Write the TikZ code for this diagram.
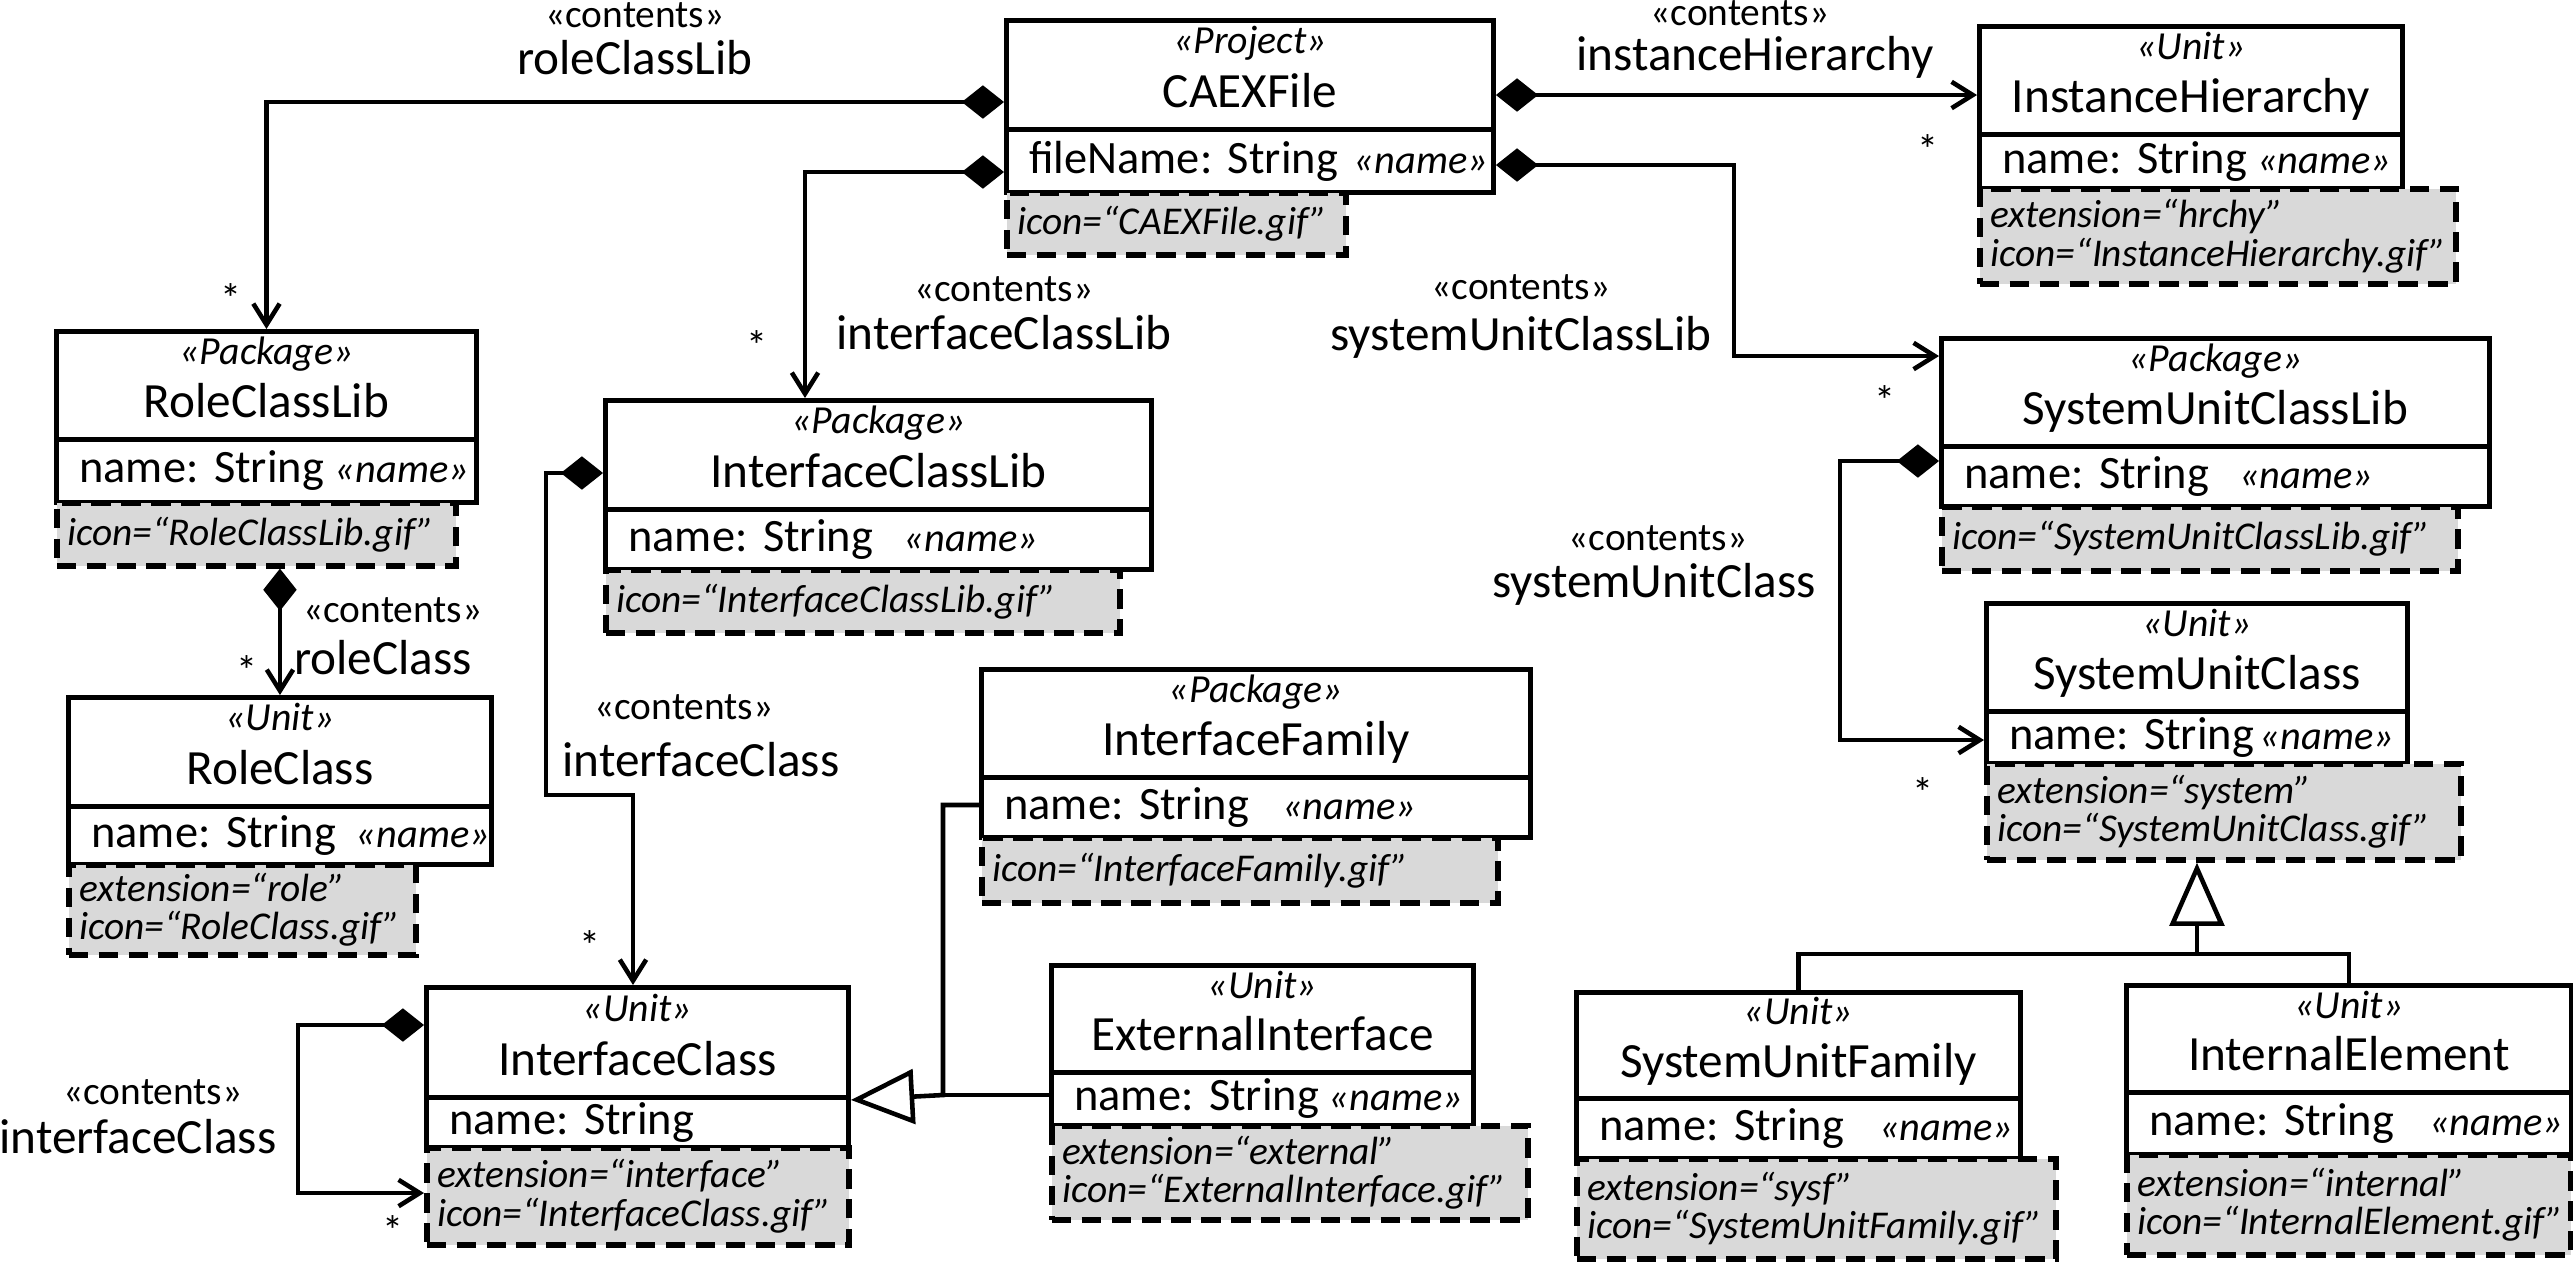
\documentclass[tikz,border=0pt]{standalone}
\usepackage{fontspec}
\setmainfont{Carlito}
\usetikzlibrary{arrows.meta,calc}
\definecolor{tagfill}{HTML}{D9D9D9}
\newcommand\stf{\fontsize{11.3}{12.5}\selectfont\itshape}
\newcommand\nmf{\fontsize{14}{14}\selectfont}
\newcommand\atf{\fontsize{13.2}{14}\selectfont}
\newcommand\tgf{\fontsize{11.2}{10.9}\selectfont\itshape}
\newcommand\lbf{\fontsize{14}{14}\selectfont}
\newcommand\ctf{\fontsize{11.2}{12}\selectfont}
\newcommand\stfnt{\fontsize{12}{12}\selectfont}
\newcommand\nattr[2][name: String]{#1\hspace{#2}{\fontsize{11.5}{14}\selectfont\itshape «name»}}
\newcommand\clshead[7]{%
 \pgfmathsetlengthmacro\bw{(#4-#2)*0.01cm}%
 \pgfmathsetlengthmacro\bh{(#5-#3)*0.01cm}%
 \node[hdrbox, minimum width=\bw, minimum height=\bh] (#1) at (#2,#3) {};
 \node[sttext] (#1s) at ($(#1.north)!0.315!(#1.south)$) {«#6»};
 \node[nmtext] (#1n) at ($(#1.north)!0.785!(#1.south)$) {#7};}
\newcommand\clsattr[6]{%
 \pgfmathsetlengthmacro\bw{(#4-#2)*0.01cm}%
 \pgfmathsetlengthmacro\bh{(#5-#3)*0.01cm}%
 \pgfmathsetlengthmacro\tw{(#4-#2)*0.01cm-13pt}%
 \node[attbox, minimum width=\bw, minimum height=\bh, text width=\tw] (#1) at (#2,#3) {\mbox{#6}};}
\newcommand\clstag[6]{%
 \pgfmathsetlengthmacro\bw{(#4-#2)*0.01cm}%
 \pgfmathsetlengthmacro\bh{(#5-#3)*0.01cm}%
 \pgfmathsetlengthmacro\tw{(#4-#2)*0.01cm-6pt}%
 \node[tagbox, minimum width=\bw, minimum height=\bh, text width=\tw] (#1) at (#2,#3) {#6};}
\tikzset{
 hdrbox/.style={draw, line width=1.4pt, fill=white, anchor=north west, inner sep=0pt},
 sttext/.style={font=\stf, anchor=base, inner sep=0pt},
 nmtext/.style={font=\nmf, anchor=base, inner sep=0pt},
 attbox/.style={draw, line width=1.4pt, fill=white, anchor=north west, inner xsep=6.5pt, inner ysep=0pt, align=left, font=\atf},
 tagbox/.style={draw, line width=1.6pt, dash pattern=on 5.5pt off 3pt, fill=tagfill, anchor=north west, inner xsep=3pt, inner ysep=0pt, align=left, font=\tgf},
 conn/.style={line width=1.3pt},
 comp/.style={conn, {Diamond[length=12pt,width=9.5pt]}-{Straight Barb[length=6pt,width=7.5pt]}},
 gen/.style={conn, -{Triangle[open,length=18pt,width=15.5pt,fill=white]}},
 lbl/.style={font=\lbf, inner sep=0pt},
 ctl/.style={font=\ctf, inner sep=0pt},
 star/.style={font=\stfnt, inner sep=0pt},
}
\begin{document}
\frenchspacing
\begin{tikzpicture}[x=0.01cm,y=-0.01cm]
\useasboundingbox (0,0) rectangle (2573,1262);
% CAEXFile
\clshead{cf}{1004}{18}{1491}{127}{Project}{CAEXFile}
\clsattr{cfa}{1004}{127}{1491}{190}{\nattr[fileName: String]{0.16cm}}
\clstag{cft}{1004}{190}{1343}{252}{icon=“CAEXFile.gif”}
% InstanceHierarchy
\clshead{ih}{1977}{24}{2400}{132}{Unit}{InstanceHierarchy}
\clsattr{iha}{1977}{132}{2400}{186}{\nattr{0.10cm}}
\clstag{iht}{1977}{186}{2453}{281}{extension=“hrchy”\\icon=“InstanceHierarchy.gif”}
% RoleClassLib
\clshead{rcl}{54}{329}{474}{437}{Package}{RoleClassLib}
\clsattr{rcla}{54}{437}{474}{500}{\nattr{0.11cm}}
\clstag{rclt}{54}{500}{453}{563}{icon=“RoleClassLib.gif”}
% InterfaceClassLib
\clshead{icl}{603}{398}{1149}{507}{Package}{InterfaceClassLib}
\clsattr{icla}{603}{507}{1149}{567}{\nattr{0.31cm}}
\clstag{iclt}{603}{567}{1117}{630}{icon=“InterfaceClassLib.gif”}
% SystemUnitClassLib
\clshead{sucl}{1939}{336}{2487}{444}{Package}{SystemUnitClassLib}
\clsattr{sucla}{1939}{444}{2487}{504}{\nattr{0.30cm}}
\clstag{suclt}{1939}{504}{2455}{568}{icon=“SystemUnitClassLib.gif”}
% RoleClass
\clshead{rc}{66}{695}{489}{804}{Unit}{RoleClass}
\clsattr{rca}{66}{804}{489}{862}{\nattr{0.20cm}}
\clstag{rct}{66}{862}{413}{952}{extension=“role”\\icon=“RoleClass.gif”}
% InterfaceFamily
\clshead{ifam}{979}{667}{1528}{775}{Package}{InterfaceFamily}
\clsattr{ifama}{979}{775}{1528}{835}{\nattr{0.33cm}}
\clstag{ifamt}{979}{835}{1495}{900}{icon=“InterfaceFamily.gif”}
% InterfaceClass
\clshead{ic}{424}{985}{846}{1095}{Unit}{InterfaceClass}
\clsattr{ica}{424}{1095}{846}{1145}{name: String}
\clstag{ict}{424}{1145}{846}{1242}{extension=“interface”\\icon=“InterfaceClass.gif”}
% ExternalInterface
\clshead{ei}{1049}{963}{1471}{1070}{Unit}{ExternalInterface}
\clsattr{eia}{1049}{1070}{1471}{1123}{\nattr{0.10cm}}
\clstag{eit}{1049}{1123}{1525}{1217}{extension=“external”\\icon=“ExternalInterface.gif”}
% SystemUnitClass
\clshead{suc}{1984}{601}{2405}{709}{Unit}{SystemUnitClass}
\clsattr{suca}{1984}{709}{2405}{761}{\nattr{0.06cm}}
\clstag{suct}{1984}{761}{2458}{857}{extension=“system”\\icon=“SystemUnitClass.gif”}
% SystemUnitFamily
\clshead{suf}{1574}{990}{2018}{1096}{Unit}{SystemUnitFamily}
\clsattr{sufa}{1574}{1096}{2018}{1156}{\nattr{0.35cm}}
\clstag{suft}{1574}{1156}{2053}{1256}{extension=“sysf”\\icon=“SystemUnitFamily.gif”}
% InternalElement
\clshead{ie}{2124}{983}{2569}{1090}{Unit}{InternalElement}
\clsattr{iea}{2124}{1090}{2569}{1152}{\nattr{0.35cm}}
\clstag{iet}{2124}{1152}{2568}{1252}{extension=“internal”\\icon=“InternalElement.gif”}

% connectors
\draw[comp] (cf.west |- 0,102) -| (rcl.north);
\draw[comp] (cfa.west |- 0,172) -| (icl.north -| 805,0);
\draw[comp] (cf.east |- 0,95) -- (ih.west |- 0,95);
\draw[comp] (cfa.east |- 0,165) -- (1734,165) -- (1734,356) -- (sucl.west |- 0,356);
\draw[comp] (rclt.south -| rc.north) -- (rc.north);
\draw[comp] (icl.west |- 0,473) -- (546,473) -- (546,795) -- (633,795) -- (ic.north -| 633,0);
\draw[comp] (ic.west |- 0,1025) -- (298,1025) -- (298,1193) -- (ict.west |- 0,1193);
\draw[comp] (sucla.west |- 0,461) -- (1840,461) -- (1840,740) -- (suca.west |- 0,740);
\draw[gen] (ifama.west |- 0,805) -- (943,805) -- (943,1095) -- (ic.south east);
\draw[conn] (eia.west |- 0,1095) -- (943,1095);
\draw[gen] (suf.north) |- (suc.south |- 0,954) -- (suct.south -| suc.south);
\draw[conn] (ie.north) |- (suc.south |- 0,954);

% labels
\node[ctl] (l1a) at (635,15) {«contents»};
\node[lbl] (l1b) at (635,58) {roleClassLib};
\node[star] (s1) at (231,298) {*};
\node[ctl] (l2a) at (1740,13) {«contents»};
\node[lbl] (l2b) at (1755,57) {instanceHierarchy};
\node[star] (s2) at (1928,150) {*};
\node[ctl] (l3a) at (1004,289) {«contents»};
\node[lbl] (l3b) at (1004,333) {interfaceClassLib};
\node[star] (s3) at (757,345) {*};
\node[ctl] (l4a) at (1521,287) {«contents»};
\node[lbl] (l4b) at (1521,337) {systemUnitClassLib};
\node[star] (s4) at (1885,400) {*};
\node[ctl] (l5a) at (393,610) {«contents»};
\node[lbl] (l5b) at (383,658) {roleClass};
\node[star] (s5) at (247,670) {*};
\node[ctl] (l6a) at (1658,538) {«contents»};
\node[lbl] (l6b) at (1654,584) {systemUnitClass};
\node[star] (s6) at (1923,792) {*};
\node[ctl] (l7a) at (684,707) {«contents»};
\node[lbl] (l7b) at (701,760) {interfaceClass};
\node[star] (s7) at (590,945) {*};
\node[ctl] (l8a) at (153,1092) {«contents»};
\node[lbl] (l8b) at (138,1137) {interfaceClass};
\node[star] (s8) at (393,1230) {*};
\end{tikzpicture}
\end{document}
